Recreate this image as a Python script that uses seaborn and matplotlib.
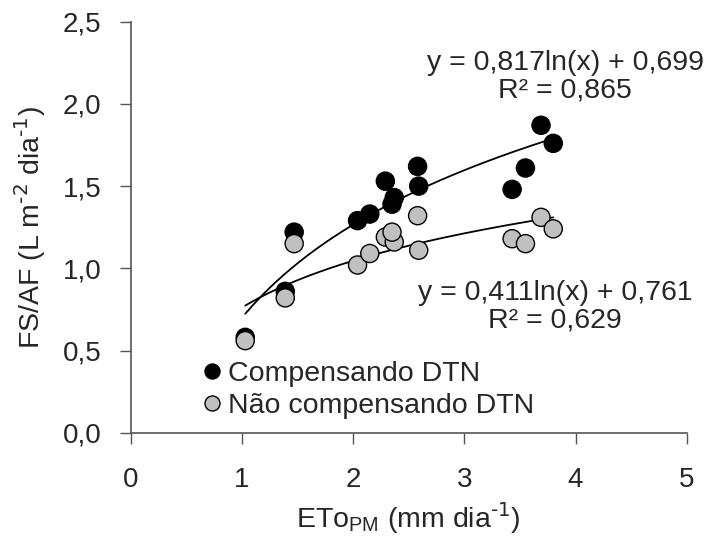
import numpy as np
import pandas as pd
import matplotlib
matplotlib.use("Agg")
import matplotlib.pyplot as plt
import seaborn as sns

sns.set_style("ticks")
plt.rcParams['font.family'] = ['Liberation Sans', 'DejaVu Sans']
plt.rcParams['mathtext.default'] = 'regular'

# Data
eto_comp = [1.03, 1.39, 1.47, 2.04, 2.15, 2.29, 2.35, 2.37, 2.58, 2.59, 3.43, 3.55, 3.69, 3.80]
fs_comp = [0.58, 0.86, 1.22, 1.29, 1.33, 1.53, 1.39, 1.43, 1.62, 1.50, 1.48, 1.61, 1.87, 1.76]
eto_nao = [1.03, 1.39, 1.47, 2.04, 2.15, 2.29, 2.37, 2.35, 2.58, 2.59, 3.43, 3.55, 3.69, 3.80]
fs_nao = [0.56, 0.82, 1.15, 1.02, 1.09, 1.19, 1.16, 1.22, 1.32, 1.11, 1.18, 1.15, 1.31, 1.24]
series = ["Compensando DTN", "Não compensando DTN"]
coef_a = [0.817, 0.411]
coef_b = [0.699, 0.761]
eq_labels = ["y = 0,817ln(x) + 0,699\nR² = 0,865", "y = 0,411ln(x) + 0,761\nR² = 0,629"]
xticks = [0, 1, 2, 3, 4, 5]
yticks = [0.0, 0.5, 1.0, 1.5, 2.0, 2.5]
ytick_labels = ["0,0", "0,5", "1,0", "1,5", "2,0", "2,5"]

df = pd.DataFrame({
    "x": eto_comp + eto_nao,
    "y": fs_comp + fs_nao,
    "grupo": [series[0]] * len(eto_comp) + [series[1]] * len(eto_nao),
})

FS = 20.5

fig = plt.figure(figsize=(7.13, 5.37), dpi=100)
ax = fig.add_axes([130.7 / 713, 1 - 432.7 / 537, 556 / 713, 411 / 537])

# trend lines
trend_rows = []
for i, (xs, name) in enumerate([(eto_comp, series[0]), (eto_nao, series[1])]):
    xx = np.linspace(min(xs), max(xs), 200)
    trend_rows.append(pd.DataFrame({"x": xx, "y": coef_a[i] * np.log(xx) + coef_b[i], "grupo": name}))
trend = pd.concat(trend_rows)
sns.lineplot(data=trend, x="x", y="y", units="grupo", estimator=None, color="black",
             linewidth=1.3, ax=ax, legend=False, zorder=2)

sns.scatterplot(data=df, x="x", y="y", hue="grupo", hue_order=series,
                palette={series[0]: "black", series[1]: "#c0c0c0"},
                s=170, edgecolor="black", linewidth=1.0, ax=ax, zorder=3)

ax.set_xlim(0, 5)
ax.set_ylim(0, 2.5)
ax.set_xticks(xticks)
ax.set_yticks(yticks)
ax.set_yticklabels(ytick_labels)
ax.tick_params(axis="both", labelsize=20, length=8, width=1, color="#555555", direction="out")
ax.tick_params(axis="x", pad=17)
ax.tick_params(axis="y", pad=13)
for side in ["top", "right"]:
    ax.spines[side].set_visible(False)
for side in ["left", "bottom"]:
    ax.spines[side].set_color("#555555")
    ax.spines[side].set_linewidth(1.2)

ax.set_xlabel(r"ETo$_{PM}$ (mm dia$^{\text{-1}}$)", fontsize=FS, labelpad=5)
ax.set_ylabel(r"FS/AF (L m$^{\text{-2}}$ dia$^{\text{-1}}$)", fontsize=FS, labelpad=11)

ax.text(3.906, 2.164, eq_labels[0], fontsize=FS, ha="center", va="center", linespacing=1.1)
ax.text(3.816, 0.768, eq_labels[1], fontsize=FS, ha="center", va="center", linespacing=1.08)

leg = ax.legend(loc="upper left", bbox_to_anchor=(0.121, 0.1745), frameon=False, fontsize=FS,
                handletextpad=0.05, labelspacing=0.2, borderaxespad=0, borderpad=0,
                handlelength=1.0)
for h in leg.legend_handles:
    if hasattr(h, "set_markersize"):
        h.set_markersize(10.8)
        h.set_markeredgecolor("black")

fig.savefig("out.png", dpi=100)
